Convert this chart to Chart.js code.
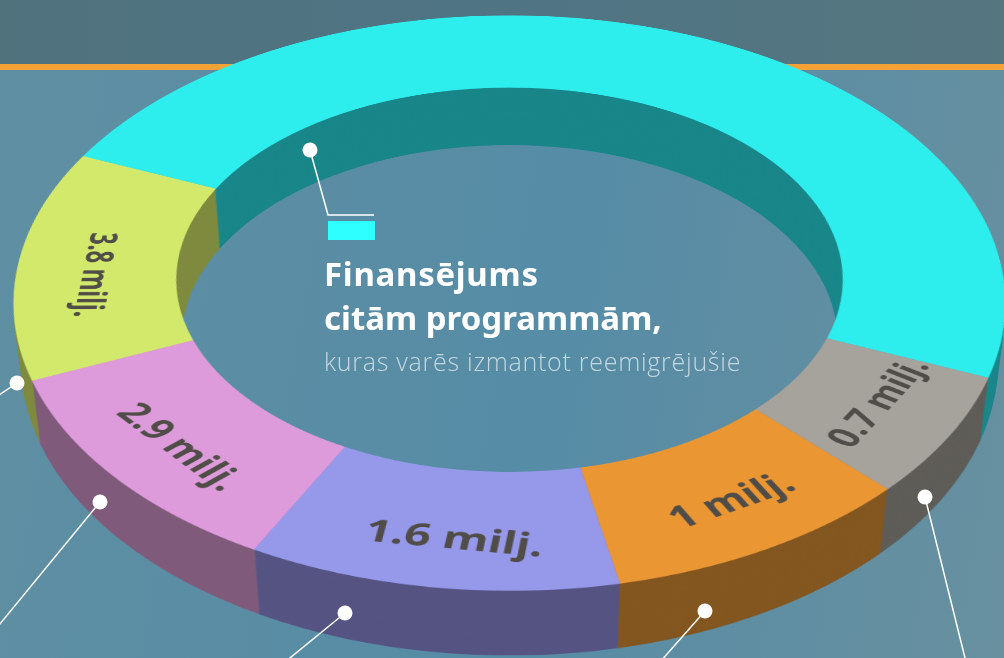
<!DOCTYPE html>
<html lang="lv">
<head>
<meta charset="utf-8">
<style>
html, body { margin: 0; padding: 0; }
body { width: 1004px; height: 658px; overflow: hidden; position: relative; background: #5a8da3; }
#bg { position: absolute; inset: 0; background: linear-gradient(100deg, #5f8fa2 0%, #568ca6 55%, #68909f 100%); }
#band { position: absolute; left: 0; top: 0; width: 1004px; height: 65px; background: linear-gradient(90deg, #4f727d 0%, #4f7484 50%, #55767f 100%); }
#rule { position: absolute; left: 0; top: 64px; width: 1004px; height: 6px; background: #f4a236; }
#stage { position: absolute; left: 0; top: 0; width: 1004px; height: 658px; overflow: hidden; perspective: 2714px; perspective-origin: 509px 260px; }
#stage canvas { position: absolute; left: 18.5px; top: -230.5px; }
#marks { position: absolute; left: 0; top: 0; }
.t { position: absolute; left: 324px; color: #fff; white-space: nowrap; }
.b { font: 700 33px "Noto Sans", sans-serif; }
.s { font: 300 25px "Open Sans", sans-serif; color: #c4d8e2; letter-spacing: 0.73px; }
</style>
</head>
<body>
<div id="bg"></div>
<div id="band"></div>
<div id="rule"></div>
<div id="stage"></div>
<svg id="marks" width="1004" height="658">
  <g stroke="#fff" stroke-width="1.5" fill="none">
    <polyline points="310,150 328,215 374,215"/>
    <line x1="17" y1="383" x2="-10" y2="401"/>
    <line x1="100" y1="502" x2="-10" y2="636"/>
    <line x1="345" y1="613" x2="285" y2="662"/>
    <line x1="705" y1="611" x2="660" y2="662"/>
    <line x1="925" y1="497" x2="966" y2="662"/>
  </g>
  <g fill="#fff">
    <circle cx="310" cy="150" r="7.5"/>
    <circle cx="17" cy="383" r="7.5"/>
    <circle cx="100" cy="502" r="7.5"/>
    <circle cx="345" cy="613" r="7.5"/>
    <circle cx="705" cy="611" r="7.5"/>
    <circle cx="925" cy="497" r="7.5"/>
  </g>
  <rect x="328" y="221" width="47" height="19" fill="#2effff"/>
</svg>
<div class="t b" style="top:251px;letter-spacing:0.7px">Finansējums</div>
<div class="t b" style="top:295px">citām programmām,</div>
<div class="t s" style="top:344px">kuras varēs izmantot reemigrējušie</div>
<script src="https://cdn.jsdelivr.net/npm/chart.js@4"></script>
<script>
// slices clockwise, starting at the cyan one
const sliceLabels = ['', '0.7 milj.', '1 milj.', '1.6 milj.', '2.9 milj.', '3.8 milj.'];
// drawn share of the ring in degrees (not proportional to the labels)
const sliceDegrees = [180, 23.4, 32.4, 38, 39.4, 46.8];
const topColors = ['#2deded', '#a6a29c', '#ea9633', '#9698ea', '#de9bdc', '#d3e96c'];
const wallColors = ['#188689', '#5e5c57', '#83561f', '#545382', '#7f5a7a', '#7e8a3e'];
const startAngle = -66.9;
const ringCut = '67.6%';
const ringSize = 981;
const wallDepth = 75;
const wallStep = 2.5;
const labelColor = '#504c48';
// label tweaks per slice: font size, shift along the text, shift outwards
const labelSizes = [0, 40, 41, 41, 41, 38];
const labelAlong = [0, 8, 5, 10, 7, 21];
const labelOut = [0, 4, 11, 16, 12, 2];

const stage = document.getElementById('stage');

// rotated labels, sit in the plane of the ring so they get the same perspective
const sliceText = {
    id: 'sliceText',
    afterDatasetsDraw(chart) {
        const ctx = chart.ctx;
        chart.getDatasetMeta(0).data.forEach((arc, i) => {
            if (!sliceLabels[i]) return;
            const p = arc.getCenterPoint();
            const mid = (arc.startAngle + arc.endAngle) / 2;
            ctx.save();
            ctx.translate(p.x + labelOut[i] * Math.cos(mid), p.y + labelOut[i] * Math.sin(mid));
            ctx.rotate(mid - Math.PI / 2);
            ctx.font = 'bold ' + labelSizes[i] + 'px "Noto Sans", sans-serif';
            ctx.fillStyle = labelColor;
            ctx.textAlign = 'center';
            ctx.textBaseline = 'middle';
            ctx.fillText(sliceLabels[i], labelAlong[i], 0);
            ctx.restore();
        });
    }
};

function addLayer(colors, depth, plugins, dpr) {
    const canvas = document.createElement('canvas');
    canvas.width = ringSize;
    canvas.height = ringSize;
    canvas.style.transform = 'rotateX(55deg) translateZ(' + (-depth) + 'px)';
    stage.appendChild(canvas);
    new Chart(canvas, {
        type: 'doughnut',
        data: {
            labels: sliceLabels,
            datasets: [{ data: sliceDegrees, backgroundColor: colors, borderWidth: 0 }]
        },
        options: {
            responsive: false,
            animation: false,
            devicePixelRatio: dpr,
            cutout: ringCut,
            rotation: startAngle,
            plugins: { legend: { display: false }, tooltip: { enabled: false } }
        },
        plugins: plugins
    });
}

// the wall is just the same ring stacked downwards
for (let d = wallDepth; d > 0; d -= wallStep) {
    addLayer(wallColors, d, [], 1);
}
addLayer(topColors, 0, [sliceText], 2);
</script>
</body>
</html>
